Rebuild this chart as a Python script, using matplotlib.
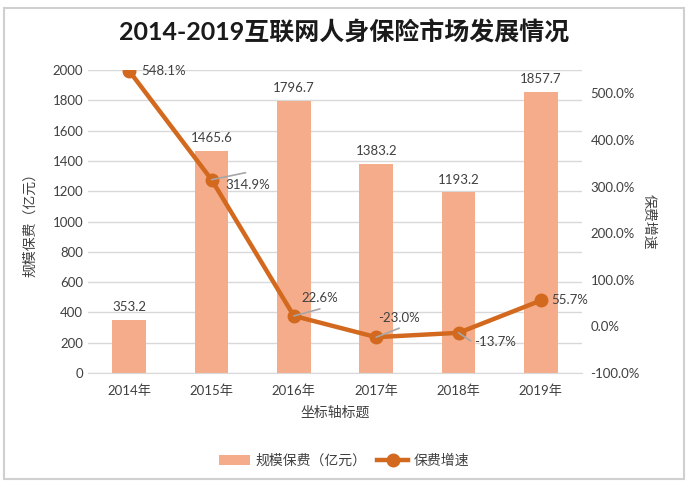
import matplotlib.pyplot as plt
from matplotlib.patches import Rectangle

plt.rcParams['font.family'] = ['Lato', 'Noto Sans CJK SC', 'DejaVu Sans']

# data
years = ['2014年', '2015年', '2016年', '2017年', '2018年', '2019年']
premium = [353.2, 1465.6, 1796.7, 1383.2, 1193.2, 1857.7]
growth = [548.1, 314.9, 22.6, -23.0, -13.7, 55.7]

bar_color = '#F4AC8A'
line_color = '#D2691E'
grid_color = '#D9D9D9'
text_color = '#404040'

fig = plt.figure(figsize=(6.88, 4.87), dpi=100)
fig.patches.append(Rectangle((0.006, 0.016), 0.988, 0.968, transform=fig.transFigure,
                             fill=False, edgecolor='#D0D0D0', linewidth=1.5))

ax = fig.add_axes([0.128, 0.234, 0.718, 0.622])
x = list(range(len(years)))

# bars - premium
ax.bar(x, premium, width=0.41, color=bar_color, zorder=2, label='规模保费（亿元）')
for xi, v in zip(x, premium):
    ax.text(xi, v + 45, f'{v:.1f}', ha='center', va='bottom', fontsize=9.5, color=text_color)

ax.set_xlim(-0.5, 5.5)
ax.set_ylim(0, 2000)
ax.set_yticks(range(0, 2001, 200))
ax.yaxis.grid(True, color=grid_color, linewidth=1, zorder=0)
ax.set_axisbelow(True)
for s in ['top', 'left', 'right']:
    ax.spines[s].set_visible(False)
ax.spines['bottom'].set_color(grid_color)
ax.tick_params(axis='both', length=0, labelsize=9.5, colors=text_color)
ax.tick_params(axis='x', pad=8)
ax.set_xticks(x)
ax.set_xticklabels(years)
ax.set_ylabel('规模保费（亿元）', fontsize=10, color=text_color, labelpad=12)
ax.set_xlabel('坐标轴标题', fontsize=10, color=text_color, labelpad=6)

# line - growth rate
ax2 = ax.twinx()
ax2.plot(x, growth, color=line_color, linewidth=3.2, marker='o', markersize=9,
         zorder=3, label='保费增速')
ax2.set_ylim(-100, 550)
ax2.set_yticks(range(-100, 501, 100))
ax2.set_yticklabels([f'{t:.1f}%' for t in range(-100, 501, 100)])
for s in ['top', 'left', 'right', 'bottom']:
    ax2.spines[s].set_visible(False)
ax2.tick_params(axis='y', length=0, labelsize=9.5, colors=text_color, pad=6)
ax2.set_ylabel('保费增速', fontsize=10, color=text_color, rotation=270, labelpad=12)

# data labels for the line: text offset (px) and leader line end (px) or None
text_off = [(12, 0), (14, -5), (8, 18), (2, 19), (16, -9), (10, 0)]
leader_end = [None, (34, 7), (26, 7), (23, 9), (12, -8), None]
for xi, v, (dx, dy), lead in zip(x, growth, text_off, leader_end):
    if lead is not None:
        ax2.annotate('', xy=(xi, v), xytext=lead, textcoords='offset pixels',
                     arrowprops=dict(arrowstyle='-', color='#A6A6A6', lw=1.2,
                                     shrinkA=0, shrinkB=0), zorder=4)
    ax2.annotate(f'{v:.1f}%', xy=(xi, v), xytext=(dx, dy), textcoords='offset pixels',
                 ha='left', va='center', fontsize=9.5, color=text_color, zorder=5)

fig.suptitle('2014-2019互联网人身保险市场发展情况', x=0.5, y=0.96, fontsize=18,
             fontweight='bold', color='#1A1A1A')

h1, l1 = ax.get_legend_handles_labels()
h2, l2 = ax2.get_legend_handles_labels()
fig.legend(h1 + h2, l1 + l2, loc='center', bbox_to_anchor=(0.5, 0.055), ncol=2,
           frameon=False, fontsize=10, labelcolor=text_color, handlelength=2.2,
           columnspacing=0.8, handletextpad=0.4)

fig.savefig('out.png', dpi=100)
